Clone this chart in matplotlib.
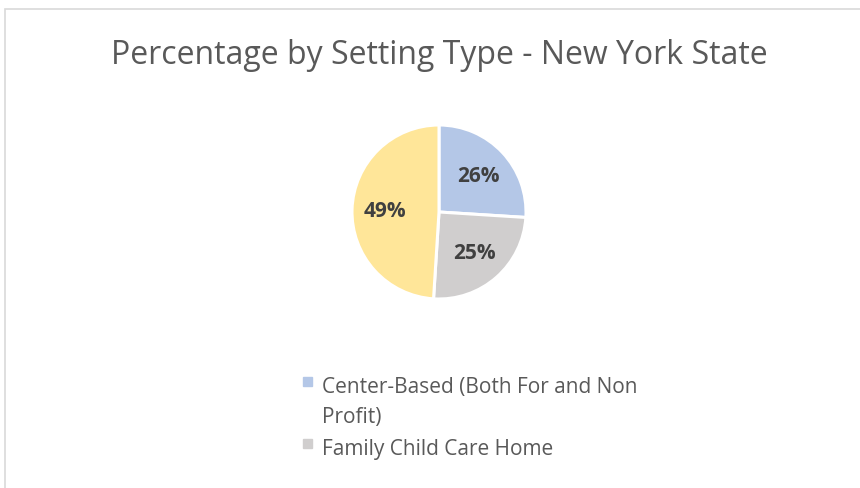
import matplotlib.pyplot as plt
from matplotlib.patches import Rectangle

labels = ['Center-Based (Both For and Non\nProfit)', 'Family Child Care Home', 'Legally Exempt']
values = [26, 25, 49]
colors = ['#B4C7E7', '#D0CECE', '#FFE699']

plt.rcParams['font.family'] = ['Open Sans', 'DejaVu Sans']

W, H = 860, 489
fig = plt.figure(figsize=(W / 100, H / 100), dpi=100)

def fx(px):
    return px / W

def fy(py):
    return 1 - py / H

# chart border, cut off on the right and bottom like the screenshot
fig.patches.append(Rectangle((fx(4.5), -0.1), 1.1, fy(9.5) + 0.1,
                             transform=fig.transFigure, fill=False,
                             edgecolor='#D9D9D9', linewidth=1.2))

fig.text(fx(439), fy(56), 'Percentage by Setting Type - New York State',
         ha='center', va='center', fontsize=23, color='#595959')

# pie: center (439, 213), radius 87 px
ax = fig.add_axes([fx(439 - 87), fy(300), fx(174), 174 / H])
wedges, texts, autotexts = ax.pie(values, colors=colors, startangle=90, counterclock=False,
                                  autopct='%d%%', pctdistance=0.62,
                                  wedgeprops=dict(edgecolor='white', linewidth=2.2))
for t in autotexts:
    t.set_fontsize(15)
    t.set_fontweight('bold')
    t.set_color('#404040')
for w in wedges:
    w.set_clip_on(False)
ax.set_xlim(-1, 1)
ax.set_ylim(-1, 1)

# legend (only the first two entries are visible in the original)
baselines = [[393, 423], [455]]
for i in range(2):
    y0 = baselines[i][0]
    fig.patches.append(Rectangle((fx(303), fy(y0 - 6)), fx(9), 9 / H,
                                 transform=fig.transFigure, color=colors[i]))
    for line, yb in zip(labels[i].split('\n'), baselines[i]):
        fig.text(fx(322), fy(yb), line, ha='left', va='baseline',
                 fontsize=15, color='#595959')

fig.savefig('out.png', dpi=100)
